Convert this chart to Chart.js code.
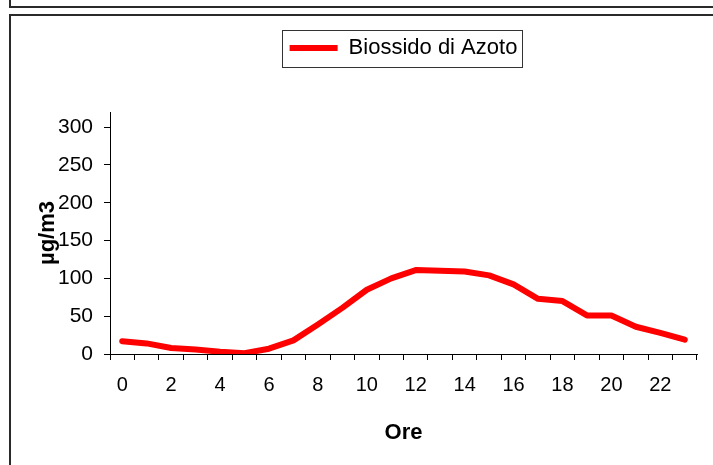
<!DOCTYPE html>
<html>
<head>
<meta charset="utf-8">
<script src="https://cdn.jsdelivr.net/npm/chart.js@4.4.1/dist/chart.umd.min.js"></script>
<style>
  html, body { margin: 0; padding: 0; background: #fff; overflow: hidden; }
  #wrap { position: relative; width: 713px; height: 465px; overflow: hidden; }
  .frame { position: absolute; border: 2px solid #2a2a2a; box-sizing: border-box; }
  #c { position: absolute; left: 0; top: 0; }
</style>
</head>
<body>
<div id="wrap">
  <div class="frame" style="left:9px; top:-20px; width:800px; height:28px;"></div>
  <div class="frame" style="left:9px; top:14px; width:800px; height:600px;"></div>
  <canvas id="c" width="713" height="465"></canvas>
</div>
<script>
// ---- data ----
const hours = ["0","1","2","3","4","5","6","7","8","9","10","11","12","13","14","15","16","17","18","19","20","21","22","23"];
const no2Values = [17, 14, 8, 6, 3, 1, 7, 18, 39, 61, 85, 100, 111, 110, 109, 104, 92, 73, 70, 51, 51, 36, 28, 19];
const seriesName = "Biossido di Azoto";
const yTitle = "µg/m3";
const xTitle = "Ore";
const yMax = 320;
const yTickValues = [0, 50, 100, 150, 200, 250, 300];

const FONT = "'Liberation Sans', Arial, sans-serif";

const legendBorder = {
  id: 'legendBorder',
  afterDraw(chart) {
    const lg = chart.legend;
    if (!lg || !lg.legendHitBoxes || !lg.legendHitBoxes.length) return;
    const hb = lg.legendHitBoxes[0];
    const ctx = chart.ctx;
    ctx.save();
    ctx.strokeStyle = '#333';
    ctx.lineWidth = 1;
    const l = Math.round(hb.left - 8) + 0.5;
    const r = Math.round(hb.left + hb.width + 5) + 0.5;
    const t = Math.round(hb.top + hb.height / 2 - 18) + 0.5;
    const b = Math.round(hb.top + hb.height / 2 + 19) + 0.5;
    ctx.strokeRect(l, t, r - l, b - t);
    ctx.restore();
  }
};

new Chart(document.getElementById('c'), {
  type: 'line',
  data: {
    labels: hours,
    datasets: [{
      label: seriesName,
      data: no2Values,
      borderColor: '#ff0000',
      backgroundColor: '#ff0000',
      borderWidth: 6,
      borderCapStyle: 'round',
      borderJoinStyle: 'round',
      pointRadius: 0,
      tension: 0,
      fill: false
    }]
  },
  options: {
    responsive: false,
    animation: false,
    devicePixelRatio: 1,
    layout: { padding: { top: 27, left: 0, right: 16, bottom: 0 } },
    plugins: {
      legend: {
        display: true,
        position: 'top',
        fullSize: false,
        weight: 3000,
        labels: {
          usePointStyle: true,
          pointStyle: 'line',
          pointStyleWidth: 48,
          padding: 10,
          color: '#000',
          font: { family: FONT, size: 22 }
        }
      },
      title: {
        display: true,
        text: '',
        font: { size: 10, lineHeight: 1 },
        padding: { top: 0, bottom: 33 }
      },
      tooltip: { enabled: false }
    },
    scales: {
      x: {
        type: 'category',
        offset: true,
        grid: { display: true, drawOnChartArea: false, drawTicks: true, tickLength: 6, offset: true, color: '#000' },
        border: { display: true, color: '#000', width: 1 },
        ticks: {
          autoSkip: false,
          maxRotation: 0,
          padding: 13,
          color: '#000',
          font: { family: FONT, size: 20 },
          callback: (v, i) => (i % 2 === 0 ? hours[i] : '')
        },
        title: { display: true, text: xTitle, color: '#000', font: { family: FONT, size: 22, weight: 'bold' }, padding: { top: 0, bottom: 19 } },
        afterFit: s => { s.height = 111; }
      },
      y: {
        min: 0,
        max: yMax,
        grid: { display: true, drawOnChartArea: false, drawTicks: true, tickLength: 6, color: '#000' },
        border: { display: true, color: '#000', width: 1 },
        ticks: {
          padding: 11,
          color: '#000',
          font: { family: FONT, size: 21 }
        },
        afterBuildTicks: s => { s.ticks = yTickValues.map(v => ({ value: v })); },
        title: { display: true, text: yTitle, color: '#000', font: { family: FONT, size: 22, weight: 'bold' }, padding: { top: 35, bottom: 0 } },
        afterFit: s => { s.width = 110; }
      }
    }
  },
  plugins: [legendBorder]
});
</script>
</body>
</html>
